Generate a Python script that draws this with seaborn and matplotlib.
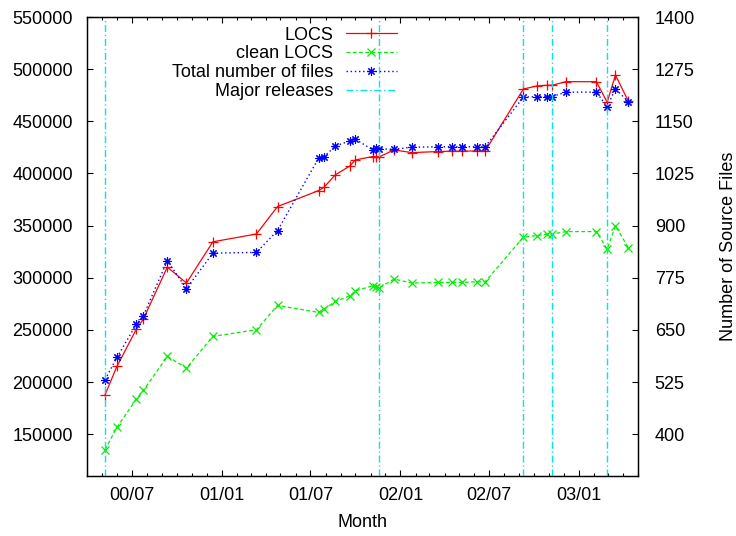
import matplotlib
matplotlib.use('Agg')
import matplotlib.pyplot as plt
import matplotlib.dates as mdates
import pandas as pd
import seaborn as sns

# ---- data ----
dates = ['2000-05-08', '2000-06-01', '2000-07-11', '2000-07-25', '2000-09-12',
         '2000-10-21', '2000-12-14', '2001-03-13', '2001-04-25', '2001-07-18',
         '2001-07-29', '2001-08-21', '2001-09-20', '2001-10-01', '2001-11-05',
         '2001-11-13', '2001-11-19', '2001-12-19', '2002-01-24', '2002-03-18',
         '2002-04-17', '2002-05-06', '2002-06-06', '2002-06-23', '2002-09-09',
         '2002-10-07', '2002-10-28', '2002-11-06', '2002-12-05', '2003-02-05',
         '2003-02-27', '2003-03-16', '2003-04-11']
locs = [188000, 215000, 251000, 260400, 310300, 295000, 334500, 342000, 368300,
        383600, 386900, 398700, 407300, 413000, 416200, 416200, 416000, 422600,
        420000, 421000, 421400, 421400, 421600, 421600, 481000, 483900, 484600,
        484500, 488000, 488000, 468300, 494400, 469500]
clean_locs = [135300, 156600, 183800, 192000, 224600, 213500, 243800, 250200,
              273500, 266800, 270000, 277300, 282800, 287500, 292300, 291500,
              290500, 298800, 295000, 295500, 295500, 295500, 296200, 296200,
              339000, 340500, 341900, 341900, 344300, 344300, 327500, 349800,
              329000]
files = [531, 584, 664, 684, 816, 749, 834, 836, 888, 1062, 1065, 1091, 1103,
         1107, 1082, 1086, 1084, 1083, 1088, 1089, 1089, 1089, 1089, 1089, 1208,
         1209, 1209, 1209, 1220, 1220, 1185, 1228, 1197]
releases = ['2000-05-08', '2001-11-19', '2002-09-09', '2002-11-06', '2003-02-27']
left_ticks = [150000, 200000, 250000, 300000, 350000, 400000, 450000, 500000, 550000]
right_ticks = [400, 525, 650, 775, 900, 1025, 1150, 1275, 1400]

df = pd.DataFrame({'date': pd.to_datetime(dates), 'locs': locs,
                   'clean': clean_locs, 'files': files})

sns.set_theme(style='white')
plt.rcParams['font.family'] = ['Liberation Sans', 'DejaVu Sans']
plt.rcParams['font.size'] = 13
plt.rcParams['text.color'] = 'black'
plt.rcParams['axes.labelcolor'] = 'black'

RED, GREEN, BLUE, CYAN = '#ff0000', '#00ee00', '#0000ff', '#00e5ee'

fig = plt.figure(figsize=(7.36, 5.36), dpi=100)
ax = fig.add_axes([87 / 736, 1 - 476 / 536, 551 / 736, 459 / 536])
ax2 = ax.twinx()

sns.lineplot(data=df, x='date', y='locs', ax=ax, color=RED, lw=0.9,
             marker='+', ms=7, mew=0.9, mec=RED, label='LOCS', legend=False)
sns.lineplot(data=df, x='date', y='clean', ax=ax, color=GREEN, lw=0.9,
             ls=(0, (3, 2)), marker='x', ms=5.5, mew=0.9, mec=GREEN,
             label='clean LOCS', legend=False)
sns.lineplot(data=df, x='date', y='files', ax=ax2, color=BLUE, lw=1.0,
             ls=(0, (1, 2)), marker=(8, 2, 0), ms=6, mew=0.8, mec=BLUE,
             label='Total number of files', legend=False)
for i, r in enumerate(releases):
    ax2.axvline(pd.Timestamp(r), color=CYAN, lw=1.0, ls=(0, (5, 2, 1, 2)),
                label='Major releases' if i == 0 else None)

ax.set_xlim(pd.Timestamp('2000-04-01'), pd.Timestamp('2003-05-01'))
ax.set_ylim(110000, 550000)
ax2.set_ylim(300, 1400)
ax.set_yticks(left_ticks)
ax.set_yticklabels([str(v) for v in left_ticks])
ax2.set_yticks(right_ticks)
ax2.set_yticklabels([str(v) for v in right_ticks])

ax.xaxis.set_major_locator(mdates.MonthLocator(bymonth=[1, 7]))
ax.xaxis.set_major_formatter(mdates.DateFormatter('%y/%m'))
ax.xaxis.set_minor_locator(mdates.MonthLocator())

for a in (ax, ax2):
    for s in a.spines.values():
        s.set_color('black')
        s.set_linewidth(0.9)
ax.tick_params(axis='x', which='both', direction='in', top=True, bottom=True,
               colors='black', labelsize=13, pad=8)
ax.tick_params(axis='x', which='major', length=4.5, width=0.8)
ax.tick_params(axis='x', which='minor', length=2.2, width=0.8)
ax.tick_params(axis='y', direction='in', left=True, right=False, length=4.5,
               width=0.8, colors='black', labelsize=13, pad=10)
ax2.tick_params(axis='y', direction='in', right=True, left=False, length=4.5,
                width=0.8, colors='black', labelsize=13, pad=12)

ax.set_xlabel('Month', fontsize=13, labelpad=7)
ax.set_ylabel('')
ax2.set_ylabel('Number of Source Files', fontsize=13, labelpad=18)

h1, l1 = ax.get_legend_handles_labels()
h2, l2 = ax2.get_legend_handles_labels()
leg = ax2.legend(h1 + h2, l1 + l2, loc='upper right', bbox_to_anchor=(0.5626, 0.979),
                 frameon=False, markerfirst=False, numpoints=1, handlelength=2.83,
                 handletextpad=0.72, labelspacing=0.1, borderpad=0, borderaxespad=0,
                 fontsize=13)

fig.savefig('out.png', dpi=100)
